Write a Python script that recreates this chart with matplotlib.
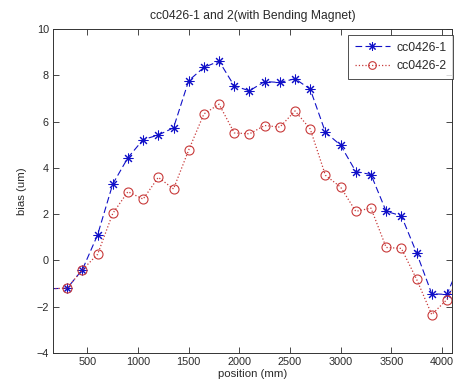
import matplotlib
matplotlib.use("Agg")
import matplotlib.pyplot as plt

plt.rcParams['font.family'] = ['Liberation Sans', 'DejaVu Sans']

position = [150, 300, 450, 600, 750, 900, 1050, 1200, 1350, 1500, 1650, 1800, 1950,
            2100, 2250, 2400, 2550, 2700, 2850, 3000, 3150, 3300, 3450, 3600, 3750,
            3900, 4050, 4200]
cc0426_1 = [-1.22, -1.20, -0.40, 1.10, 3.30, 4.44, 5.22, 5.42, 5.73, 7.77, 8.34, 8.61, 7.54,
            7.33, 7.73, 7.69, 7.85, 7.40, 5.54, 4.98, 3.84, 3.71, 2.12, 1.93, 0.33,
            -1.44, -1.47, 0.10]
cc0426_2 = [-1.22, -1.20, -0.40, 0.26, 2.03, 2.97, 2.65, 3.59, 3.09, 4.77, 6.33, 6.75, 5.51,
            5.47, 5.83, 5.76, 6.46, 5.68, 3.68, 3.17, 2.12, 2.26, 0.56, 0.52, -0.81,
            -2.34, -1.69, -0.50]
xticks = [500, 1000, 1500, 2000, 2500, 3000, 3500, 4000]
yticks = [-4, -2, 0, 2, 4, 6, 8, 10]

fig = plt.figure(figsize=(4.54, 3.90), dpi=100)
ax = fig.add_axes([53/454, 37/390, (452-53)/454, (353-29)/390])

blue = '#1010c8'
red = '#c83a3a'
ax.plot(position, cc0426_1, linestyle=(0, (6, 3)), color=blue, linewidth=0.8,
        marker=(8, 2, 0), markersize=7, markeredgecolor=blue, markeredgewidth=0.75,
        markevery=slice(1, -1), label='cc0426-1')
ax.plot(position, cc0426_2, linestyle=':', color=red, linewidth=0.9,
        marker='o', markersize=6.5, markerfacecolor='none', markeredgecolor=red,
        markeredgewidth=0.8, markevery=slice(1, -1), label='cc0426-2')

ax.set_xlim(160, 4100)
ax.set_ylim(-4, 10)
ax.set_xticks(xticks)
ax.set_yticks(yticks)
ax.tick_params(direction='in', top=True, right=True, labelsize=7.8, length=4,
               width=0.6, colors='#2a2a2a', pad=3)
for s in ax.spines.values():
    s.set_linewidth(0.7)
    s.set_color('#333333')

ax.set_title('cc0426-1 and 2(with Bending Magnet)', fontsize=8.7, color='#2a2a2a', pad=7)
ax.set_xlabel('position (mm)', fontsize=8.2, color='#2a2a2a', labelpad=1)
ax.set_ylabel('bias (um)', fontsize=8.2, color='#2a2a2a', labelpad=7)

leg = ax.legend(loc='upper left', bbox_to_anchor=(348/454, 1 - 35/390),
                bbox_transform=fig.transFigure, borderaxespad=0,
                fontsize=8.8, frameon=True, fancybox=False, markerscale=0.85,
                edgecolor='#222222', borderpad=0.55, handlelength=2.9,
                handletextpad=0.5, labelspacing=0.5)
leg.get_frame().set_linewidth(0.7)
for t in leg.get_texts():
    t.set_color('#2a2a2a')

fig.savefig('out.png', dpi=100)
